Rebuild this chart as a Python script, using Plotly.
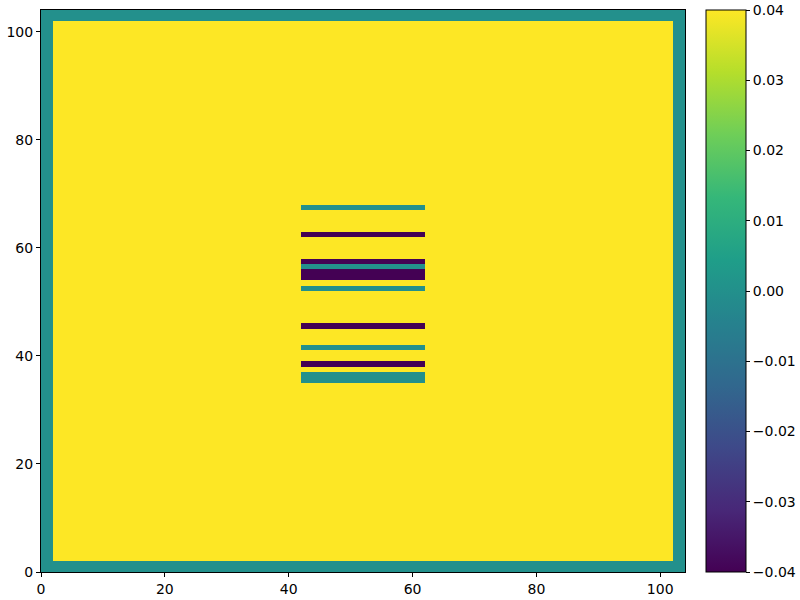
import numpy as np
import plotly.graph_objects as go

# Grid description
grid_size = 104
border_width = 2
border_value = 0.0
interior_value = 0.04
stripe_cols = [42, 62]  # start (inclusive), end (exclusive)
stripe_rows = [35, 36, 38, 41, 45, 52, 54, 55, 56, 57, 62, 67]
stripe_values = [0.0, 0.0, -0.04, 0.0, -0.04, 0.0, -0.04, -0.04, 0.0, -0.04, -0.04, 0.0]
cbar_ticks = [-0.04, -0.03, -0.02, -0.01, 0.0, 0.01, 0.02, 0.03, 0.04]
axis_ticks = [0, 20, 40, 60, 80, 100]
zlim = 0.04

z = np.full((grid_size, grid_size), border_value)
z[border_width:grid_size - border_width, border_width:grid_size - border_width] = interior_value
for r, v in zip(stripe_rows, stripe_values):
    z[r, stripe_cols[0]:stripe_cols[1]] = v

plot_w = 644
eps = 1e-9
fig = go.Figure(go.Heatmap(
    z=z,
    x0=0.5, dx=1, y0=0.5, dy=1,
    colorscale="Viridis",
    zmin=-zlim - eps, zmax=zlim + eps,
    colorbar=dict(
        x=(706 - 41) / plot_w, xanchor="left", xpad=0,
        y=0, yanchor="bottom", len=1, lenmode="fraction", ypad=0,
        thickness=40, thicknessmode="pixels",
        outlinecolor="black", outlinewidth=1,
        tickvals=cbar_ticks, tickformat=".2f",
        ticks="outside", ticklen=4, tickcolor="black",
        ticklabeloverflow="allow",
        tickfont=dict(size=14, color="black"),
    ),
    showscale=True,
))

axis_common = dict(
    showgrid=False, zeroline=False,
    showline=True, linecolor="black", linewidth=1, mirror=True,
    ticks="outside", ticklen=4, tickcolor="black",
    tickvals=axis_ticks,
    ticklabeloverflow="allow",
    tickfont=dict(size=14, color="black"),
    automargin=False,
)
fig.update_layout(
    width=800, height=600,
    margin=dict(l=41, r=115, t=10, b=28, autoexpand=False),
    paper_bgcolor="white", plot_bgcolor="white",
    font=dict(family="DejaVu Sans", size=14, color="black"),
    xaxis=dict(range=[0, grid_size], **axis_common),
    yaxis=dict(range=[0, grid_size], **axis_common),
)
fig.write_html("out.html", config={"displayModeBar": False},
               post_script="document.body.style.margin='0';")
